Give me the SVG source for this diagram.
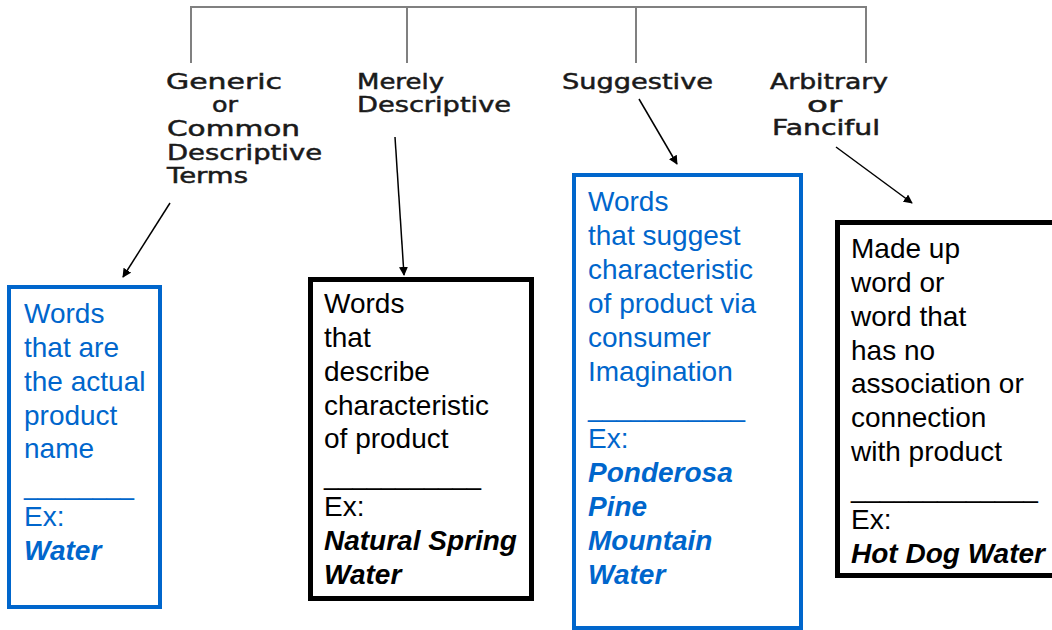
<svg xmlns="http://www.w3.org/2000/svg" width="1052" height="630" viewBox="0 0 1052 630">
<style>
.hd{font-family:"DejaVu Sans","Liberation Sans",sans-serif;font-size:21px;fill:#1a1a1a;stroke:#1a1a1a;stroke-width:0.5}
.bx{font-family:"Liberation Sans",Arial,sans-serif;font-size:28px}
.blue{fill:#0066cc}
.blk{fill:#000}
.ex{font-weight:bold;font-style:italic}
.tree{stroke:#808080;stroke-width:2;fill:none}
.arr{stroke:#000;stroke-width:1.5;fill:none;marker-end:url(#ah)}
</style>
<defs>
<marker id="ah" viewBox="0 0 10 10" refX="9" refY="5" markerWidth="9" markerHeight="9" markerUnits="userSpaceOnUse" orient="auto">
<path d="M0,0 L10,5 L0,10 z" fill="#000"/>
</marker>
</defs>
<rect width="1052" height="630" fill="#fff"/>
<g id="tree">
<path class="tree" d="M191,63 V7 H866 V63 M407,7 V63 M636,7 V63"/>
</g>
<g id="header-generic" class="hd">
<text x="166" y="89" textLength="116" lengthAdjust="spacingAndGlyphs">Generic</text>
<text x="212" y="112" textLength="26" lengthAdjust="spacingAndGlyphs">or</text>
<text x="167" y="136" textLength="133" lengthAdjust="spacingAndGlyphs">Common</text>
<text x="167" y="160" textLength="155" lengthAdjust="spacingAndGlyphs">Descriptive</text>
<text x="167" y="183" textLength="81" lengthAdjust="spacingAndGlyphs">Terms</text>
</g>
<g id="header-descriptive" class="hd">
<text x="357" y="89" textLength="87" lengthAdjust="spacingAndGlyphs">Merely</text>
<text x="357" y="112" textLength="154" lengthAdjust="spacingAndGlyphs">Descriptive</text>
</g>
<g id="header-suggestive" class="hd">
<text x="562" y="89" textLength="151" lengthAdjust="spacingAndGlyphs">Suggestive</text>
</g>
<g id="header-arbitrary" class="hd">
<text x="770" y="89" textLength="118" lengthAdjust="spacingAndGlyphs">Arbitrary</text>
<text x="807" y="112" textLength="35" lengthAdjust="spacingAndGlyphs">or</text>
<text x="772" y="135" textLength="108" lengthAdjust="spacingAndGlyphs">Fanciful</text>
</g>
<g id="connectors">
<line class="arr" x1="170" y1="203" x2="123" y2="277"/>
<line class="arr" x1="395" y1="137" x2="404" y2="275"/>
<line class="arr" x1="639" y1="99" x2="677" y2="164"/>
<line class="arr" x1="836" y1="147" x2="912" y2="203"/>
</g>
<g id="box-generic">
<rect x="9" y="287" width="151" height="320" fill="#fff" stroke="#0066cc" stroke-width="4"/>
<g class="bx blue">
<text x="24" y="323">Words</text>
<text x="24" y="357">that are</text>
<text x="24" y="391">the actual</text>
<text x="24" y="425">product</text>
<text x="24" y="458">name</text>
<text x="24" y="494" textLength="110" lengthAdjust="spacingAndGlyphs">________</text>
<text x="24" y="526">Ex:</text>
<text x="24" y="560" class="ex">Water</text>
</g>
</g>
<g id="box-descriptive">
<rect x="310.5" y="279.5" width="221" height="319" fill="#fff" stroke="#000" stroke-width="5"/>
<g class="bx blk">
<text x="324" y="313">Words</text>
<text x="324" y="347">that</text>
<text x="324" y="381">describe</text>
<text x="324" y="415">characteristic</text>
<text x="324" y="448">of product</text>
<text x="324" y="484" textLength="157" lengthAdjust="spacingAndGlyphs">___________</text>
<text x="324" y="516">Ex:</text>
<text x="324" y="550" class="ex">Natural Spring</text>
<text x="324" y="584" class="ex">Water</text>
</g>
</g>
<g id="box-suggestive">
<rect x="574" y="175" width="227" height="453" fill="#fff" stroke="#0066cc" stroke-width="4"/>
<g class="bx blue">
<text x="588" y="211">Words</text>
<text x="588" y="245">that suggest</text>
<text x="588" y="279">characteristic</text>
<text x="588" y="313">of product via</text>
<text x="588" y="347">consumer</text>
<text x="588" y="381">Imagination</text>
<text x="588" y="416" textLength="157" lengthAdjust="spacingAndGlyphs">___________</text>
<text x="588" y="448">Ex:</text>
<text x="588" y="482" class="ex">Ponderosa</text>
<text x="588" y="516" class="ex">Pine</text>
<text x="588" y="550" class="ex">Mountain</text>
<text x="588" y="584" class="ex">Water</text>
</g>
</g>
<g id="box-arbitrary">
<rect x="837.5" y="222.5" width="230" height="353" fill="#fff" stroke="#000" stroke-width="5"/>
<g class="bx blk">
<text x="851" y="258">Made up</text>
<text x="851" y="292">word or</text>
<text x="851" y="326">word that</text>
<text x="851" y="360">has no</text>
<text x="851" y="393">association or</text>
<text x="851" y="427">connection</text>
<text x="851" y="461">with product</text>
<text x="851" y="497" textLength="187" lengthAdjust="spacingAndGlyphs">_____________</text>
<text x="851" y="529">Ex:</text>
<text x="851" y="563" class="ex">Hot Dog Water</text>
</g>
</g>
</svg>
